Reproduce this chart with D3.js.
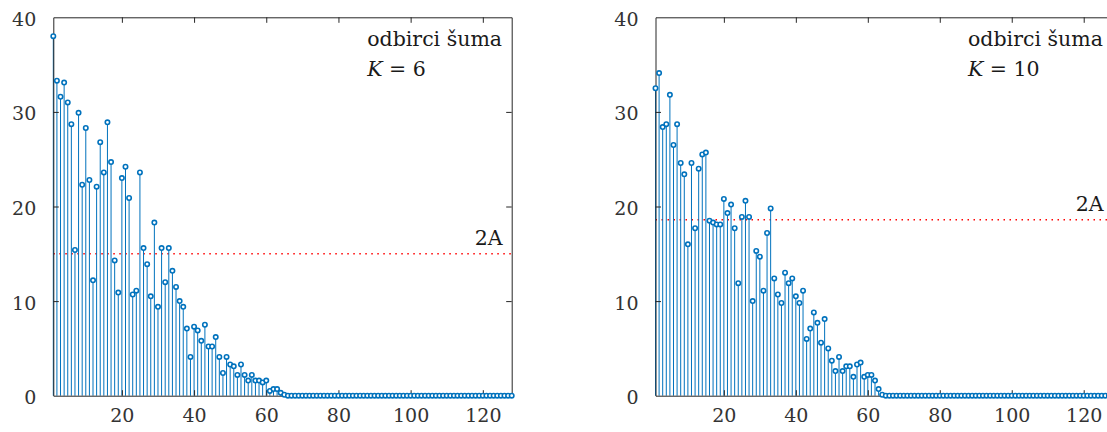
<!DOCTYPE html>
<html>
<head>
<meta charset="utf-8">
<script src="https://cdn.jsdelivr.net/npm/d3@7"></script>
<style>
  html, body { margin: 0; padding: 0; background: #fff; }
  svg { display: block; }
  text { font-family: "DejaVu Serif", serif; }
</style>
</head>
<body>
<svg id="chart" width="1107" height="432"></svg>
<script>
// ---------------- data ----------------
// noise samples, K = 6 (128 samples)
const noiseK6 = [
  38.0, 33.3, 31.6, 33.1, 31.0, 28.7, 15.4, 29.9, 22.3, 28.3,
  22.8, 12.2, 22.1, 26.8, 23.6, 28.9, 24.7, 14.3, 10.9, 23.0,
  24.2, 20.9, 10.7, 11.1, 23.6, 15.6, 13.9, 10.5, 18.3, 9.4,
  15.6, 12.0, 15.6, 13.2, 11.5, 10.0, 9.4, 7.1, 4.1, 7.3,
  6.9, 5.8, 7.5, 5.2, 5.2, 6.2, 4.1, 2.4, 4.1, 3.3,
  3.1, 2.2, 3.3, 2.2, 1.6, 2.2, 1.6, 1.6, 1.4, 1.6,
  0.5, 0.7, 0.7, 0.3, 0.1, 0, 0, 0, 0, 0,
  0, 0, 0, 0, 0, 0, 0, 0, 0, 0,
  0, 0, 0, 0, 0, 0, 0, 0, 0, 0,
  0, 0, 0, 0, 0, 0, 0, 0, 0, 0,
  0, 0, 0, 0, 0, 0, 0, 0, 0, 0,
  0, 0, 0, 0, 0, 0, 0, 0, 0, 0,
  0, 0, 0, 0, 0, 0, 0, 0
];
// noise samples, K = 10 (128 samples)
const noiseK10 = [
  32.5, 34.1, 28.4, 28.7, 31.8, 26.5, 28.7, 24.6, 23.4, 16.0,
  24.6, 17.7, 24.0, 25.5, 25.7, 18.5, 18.3, 18.1, 18.1, 20.8,
  19.3, 20.2, 17.7, 11.9, 18.9, 20.6, 18.9, 10.0, 15.3, 14.7,
  11.1, 17.2, 19.8, 12.4, 10.7, 9.8, 13.0, 11.9, 12.4, 10.5,
  9.8, 11.1, 6.0, 7.1, 8.8, 7.7, 5.6, 8.1, 5.0, 3.7,
  2.6, 4.1, 2.6, 3.1, 3.1, 2.0, 3.3, 3.5, 2.0, 2.2,
  2.2, 1.6, 0.7, 0.1, 0, 0, 0, 0, 0, 0,
  0, 0, 0, 0, 0, 0, 0, 0, 0, 0,
  0, 0, 0, 0, 0, 0, 0, 0, 0, 0,
  0, 0, 0, 0, 0, 0, 0, 0, 0, 0,
  0, 0, 0, 0, 0, 0, 0, 0, 0, 0,
  0, 0, 0, 0, 0, 0, 0, 0, 0, 0,
  0, 0, 0, 0, 0, 0, 0, 0
];
const thresholds = [15.0, 18.6];          // 2A level per panel
const kValues = ["6", "10"];
const xTicks = [20, 40, 60, 80, 100, 120];
const yTicks = [0, 10, 20, 30, 40];
const xDomain = [1, 128];
const yDomain = [0, 40];
const noteLine1 = "odbirci šuma";
const thrLabel = "2A";

// ---------------- layout ----------------
(function () {
const svg = d3.select("#chart");
const panels = [
  { vals: noiseK6,  thr: thresholds[0], k: kValues[0], left: 53.3,  right: 511.7 },
  { vals: noiseK10, thr: thresholds[1], k: kValues[1], left: 655.5, right: 1112.5 }
];
const plotTop = 17.3, plotBottom = 395.7;
const blue = "#0072BD";
const axisColor = "#262626";
const fs = 19;
const fsNote = 20.5;

panels.forEach(p => {
  const x = d3.scaleLinear().domain(xDomain).range([p.left, p.right]);
  const y = d3.scaleLinear().domain(yDomain).range([plotBottom, plotTop]);
  const g = svg.append("g");

  // threshold line (dotted red)
  g.append("line")
    .attr("x1", x(xDomain[0])).attr("x2", x(xDomain[1]))
    .attr("y1", y(p.thr)).attr("y2", y(p.thr))
    .attr("stroke", "#ff0000").attr("stroke-width", 1.5)
    .attr("stroke-dasharray", "1.5,4.5");

  // stems
  const data = p.vals.map((v, i) => ({ n: i + 1, v }));
  g.append("g").selectAll("line").data(data).join("line")
    .attr("x1", d => x(d.n)).attr("x2", d => x(d.n))
    .attr("y1", y(0)).attr("y2", d => y(d.v))
    .attr("stroke", blue).attr("stroke-width", 1);

  // axes
  const ax = (gen, tx, ty, labels) => {
    const a = g.append("g").attr("transform", `translate(${tx},${ty})`).call(gen);
    a.select(".domain").attr("stroke", axisColor).attr("stroke-width", 1);
    a.selectAll(".tick line").attr("stroke", axisColor).attr("stroke-width", 1);
    a.selectAll("text").attr("font-family", "DejaVu Serif").attr("font-size", fs)
      .attr("fill", "#333");
    if (!labels) a.selectAll("text").remove();
    return a;
  };
  ax(d3.axisBottom(x).tickValues(xTicks).tickSizeInner(-5.5).tickSizeOuter(0).tickPadding(12.5), 0, plotBottom, true);
  ax(d3.axisTop(x).tickValues(xTicks).tickSizeInner(-5.5).tickSizeOuter(0), 0, plotTop, false);
  const ly = ax(d3.axisLeft(y).tickValues(yTicks).tickSizeInner(-5.5).tickSizeOuter(0).tickPadding(17), p.left, 0, true);
  ly.selectAll("text").attr("dy", null).attr("y", 8);
  ly.selectAll(".tick").filter(d => d === 0 || d === 40).select("line").remove();
  const ry = ax(d3.axisRight(y).tickValues(yTicks).tickSizeInner(-5.5).tickSizeOuter(0), p.right, 0, false);
  ry.selectAll(".tick").filter(d => d === 0 || d === 40).select("line").remove();

  // markers
  g.append("g").selectAll("circle").data(data).join("circle")
    .attr("cx", d => x(d.n)).attr("cy", d => y(d.v))
    .attr("r", 2.2)
    .attr("fill", "#fff").attr("stroke", blue).attr("stroke-width", 1.6);

  // threshold label
  g.append("text")
    .attr("x", p.right - 9).attr("y", y(p.thr) - 9)
    .attr("text-anchor", "end").attr("font-size", fsNote).attr("fill", "#1a1a1a")
    .text(thrLabel);

  // note
  const nx = p.right - 144.5;
  g.append("text").attr("x", nx).attr("y", 45.5)
    .attr("font-size", fsNote).attr("fill", "#1a1a1a").text(noteLine1);
  const t2 = g.append("text").attr("x", nx).attr("y", 75.5)
    .attr("font-size", fsNote).attr("fill", "#1a1a1a");
  t2.append("tspan").attr("font-style", "italic").text("K");
  t2.append("tspan").text(" = " + p.k);
});
})();
</script>
</body>
</html>
